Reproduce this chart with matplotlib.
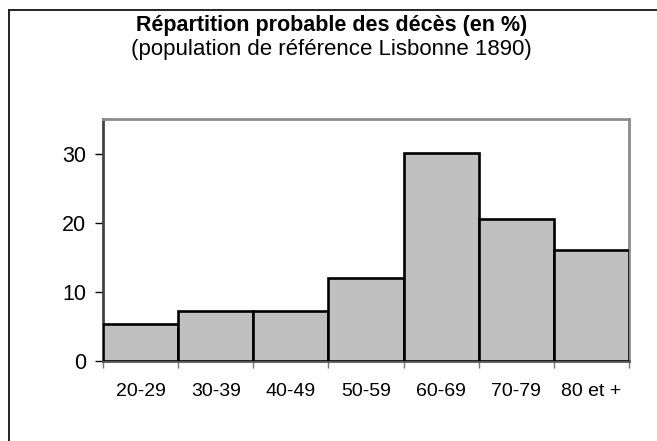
import matplotlib
matplotlib.use("Agg")
import matplotlib.pyplot as plt
from matplotlib.lines import Line2D

plt.rcParams["font.family"] = ["Liberation Sans", "DejaVu Sans"]

age_groups = ["20-29", "30-39", "40-49", "50-59", "60-69", "70-79", "80 et +"]
deaths_pct = [5.4, 7.3, 7.2, 12.0, 30.1, 20.5, 16.0]

fig = plt.figure(figsize=(6.57, 4.41), dpi=100)
ax = fig.add_axes([0.1568, 0.1814, 0.8006, 0.5488])

positions = list(range(len(age_groups)))
ax.bar(positions, deaths_pct, width=1.0, align="edge",
       color="#c0c0c0", edgecolor="black", linewidth=1.9, zorder=3)

ax.set_xlim(0, len(age_groups))
ax.set_ylim(0, 35)

# bin edges as ticks, labels at bar centres
ax.set_xticks(range(len(age_groups) + 1))
ax.set_xticklabels([])
ax.set_xticks([p + 0.5 for p in positions], minor=True)
ax.set_xticklabels(age_groups, minor=True, fontsize=14)
ax.tick_params(axis="x", which="major", direction="out", length=5,
               color="#777777", width=1)
ax.tick_params(axis="x", which="minor", length=0, pad=16)

ax.set_yticks([0, 10, 20, 30])
ax.tick_params(axis="y", direction="out", length=5.5, color="black",
               width=1, labelsize=15.5, pad=6.5)

ax.spines["left"].set_color("#444444")
ax.spines["left"].set_linewidth(2)
ax.spines["bottom"].set_color("#555555")
ax.spines["bottom"].set_linewidth(2)
for side in ("top", "right"):
    ax.spines[side].set_color("#8c8c8c")
    ax.spines[side].set_linewidth(2)

fig.text(0.504, 1 - 25 / 441, "Répartition probable des décès (en %)",
         ha="center", va="center", fontsize=15.5, fontweight="bold")
fig.text(0.504, 1 - 50 / 441, "(population de référence Lisbonne 1890)",
         ha="center", va="center", fontsize=16)

# outer chart frame (cut at right and bottom edges)
fig.add_artist(Line2D([9 / 657, 1.0], [1 - 10 / 441, 1 - 10 / 441],
                      color="#222222", linewidth=1.4))
fig.add_artist(Line2D([9 / 657, 9 / 657], [0.0, 1 - 10 / 441],
                      color="#222222", linewidth=1.4))

fig.savefig("out.png", dpi=100)
